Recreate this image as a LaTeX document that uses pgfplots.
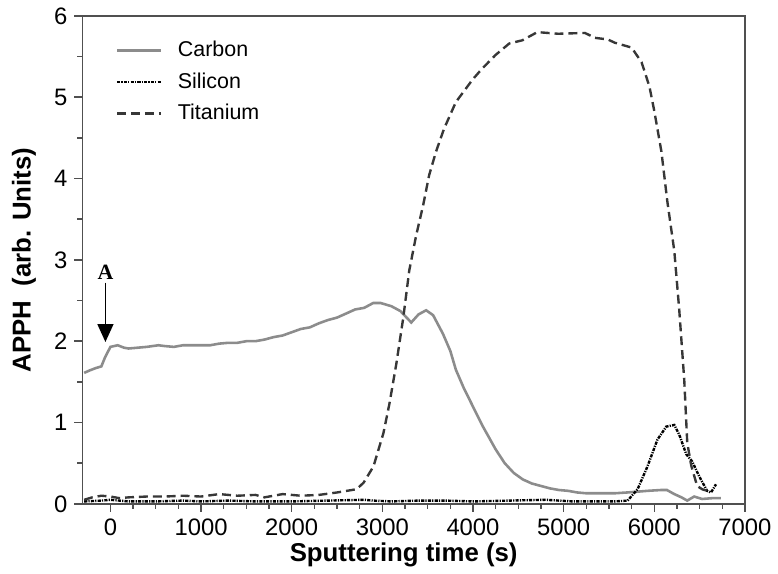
\documentclass[border=0pt]{standalone}
\usepackage{pgfplots}
\pgfplotsset{compat=1.18}
\usepackage{fontspec}
\setmainfont{Liberation Sans}
\newfontfamily\serifA{Liberation Serif}
\usetikzlibrary{arrows.meta}
\definecolor{cgray}{RGB}{140,140,140}
\definecolor{tgray}{RGB}{55,55,55}
\definecolor{axgray}{RGB}{80,80,80}
\begin{document}
\begin{tikzpicture}
\begin{axis}[
  name=main,
  scale only axis,
  width=334pt, height=246pt,
  xmin=-310, xmax=7000, ymin=0, ymax=6,
  xtick={0,1000,...,7000}, ytick={0,1,...,6},
  minor x tick num=3, minor y tick num=1,
  tick align=outside, xtick pos=left, ytick pos=left,
  major tick length=4pt, minor tick length=2.5pt,
  axis line style={axgray, line width=0.8pt},
  every tick/.style={axgray, line width=0.7pt},
  /pgf/number format/assume math mode=true,
  /pgf/number format/1000 sep={},
  tick label style={font=\fontsize{12}{14}\selectfont},
  xlabel={\textbf{Sputtering time (s)}},
  ylabel={\textbf{APPH\ \ (arb. Units)}},
  label style={font=\fontsize{13}{15}\selectfont},
  xlabel style={at={(axis description cs:0.485,-0.105)}, anchor=center},
  ylabel style={at={(axis description cs:-0.088,0.5)}, anchor=center},
  legend style={draw=none, fill=none, at={(rel axis cs:0.041,0.965)}, anchor=north west,
    font=\fontsize{10.8}{13}\selectfont, row sep=2.5pt, column sep=6pt},
  legend cell align=left,
  legend image code/.code={\draw[#1] (0cm,0cm) -- (22pt,0cm);},
]
\addplot[cgray, line width=1.3pt] coordinates {
(-290,1.61) (-230,1.64) (-160,1.67) (-100,1.69) (-60,1.80) (0,1.93) (80,1.95) (150,1.92) (200,1.91)
(300,1.92) (400,1.93) (530,1.95) (600,1.94) (700,1.93) (800,1.95) (900,1.95) (1000,1.95)
(1100,1.95) (1200,1.97) (1300,1.98) (1400,1.98) (1500,2.00) (1600,2.00) (1700,2.02) (1800,2.05)
(1900,2.07) (2000,2.11) (2100,2.15) (2200,2.17) (2300,2.22) (2400,2.26) (2500,2.29) (2600,2.34)
(2700,2.39) (2800,2.41) (2900,2.47) (2980,2.47) (3100,2.43) (3200,2.37) (3319,2.23) (3400,2.33)
(3483,2.38) (3560,2.32) (3669,2.09) (3750,1.88) (3811,1.65) (3900,1.42) (3998,1.20) (4100,0.97)
(4250,0.67) (4350,0.50) (4450,0.38) (4550,0.30) (4650,0.25) (4750,0.22) (4850,0.19) (4950,0.17)
(5050,0.16) (5150,0.14) (5250,0.13) (5350,0.13) (5450,0.13) (5564,0.13) (5700,0.14) (5816,0.15)
(5925,0.16) (6070,0.17) (6140,0.17) (6221,0.12) (6300,0.08) (6364,0.04) (6440,0.09) (6528,0.06)
(6640,0.07) (6736,0.07)
};
\addlegendentry{Carbon}
\addplot[black, line width=1.2pt, dash pattern=on 1.6pt off 0.6pt on 0.6pt off 0.6pt] coordinates {
(-290,0.03) (-100,0.04) (0,0.05) (200,0.03) (500,0.03) (800,0.04) (1000,0.03) (1300,0.04)
(1600,0.03) (2000,0.03) (2400,0.04) (2800,0.05) (2900,0.04) (3100,0.03) (3400,0.04) (3700,0.04)
(4000,0.03) (4400,0.04) (4800,0.05) (5100,0.03) (5400,0.03) (5564,0.03) (5706,0.04) (5816,0.18)
(5925,0.46) (6035,0.79) (6133,0.95) (6221,0.97) (6276,0.85) (6353,0.61) (6419,0.52) (6495,0.34)
(6583,0.16) (6626,0.14) (6681,0.24)
};
\addlegendentry{Silicon}
\addplot[tgray, line width=1.2pt, dash pattern=on 4.5pt off 2.5pt] coordinates {
(-290,0.05) (-200,0.08) (-100,0.10) (0,0.09) (100,0.07) (200,0.08) (400,0.09) (600,0.09)
(800,0.10) (1000,0.09) (1200,0.12) (1400,0.10) (1600,0.11) (1700,0.08) (1900,0.12) (2100,0.10)
(2300,0.11) (2500,0.14) (2716,0.18) (2793,0.26) (2902,0.46) (3012,0.87) (3078,1.23) (3154,1.72)
(3231,2.29) (3297,2.87) (3373,3.30) (3450,3.67) (3516,4.04) (3592,4.33) (3680,4.61) (3811,4.94)
(3998,5.22) (4100,5.35) (4250,5.52) (4400,5.66) (4545,5.70) (4710,5.80) (4940,5.78) (5235,5.79)
(5345,5.73) (5487,5.71) (5564,5.67) (5750,5.61) (5860,5.43) (5947,5.13) (6002,4.82) (6079,4.33)
(6144,3.72) (6221,3.11) (6276,2.38) (6331,1.52) (6364,0.75) (6408,0.47) (6473,0.22) (6528,0.18)
(6583,0.16)
};
\addlegendentry{Titanium}
\node[font=\serifA\bfseries\fontsize{11}{13}\selectfont] at (axis cs:-55,2.85) {A};
\draw[black, line width=0.8pt, -{Triangle[width=8pt,length=9pt]}] (axis cs:-55,2.72) -- (axis cs:-55,1.99);
\end{axis}
\path (main.south west) ++(-41.5pt,-33pt);
\path (main.north east) ++(13.5pt,8pt);
\end{tikzpicture}
\end{document}
